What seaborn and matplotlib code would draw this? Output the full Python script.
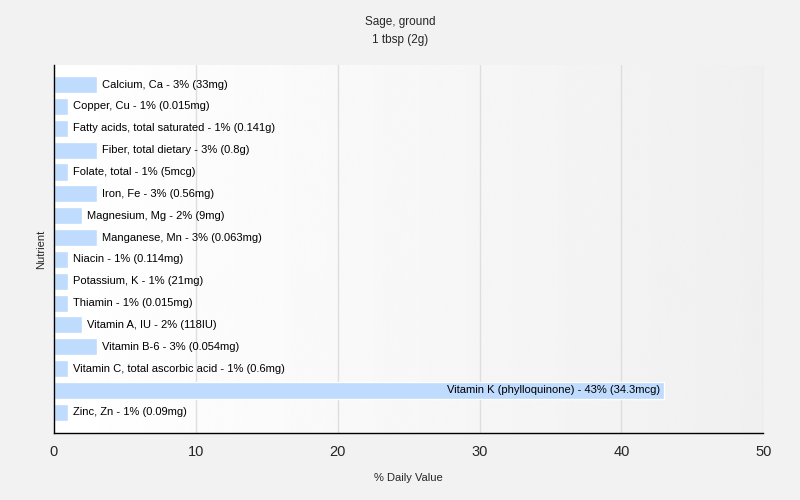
import matplotlib
matplotlib.use("Agg")
import matplotlib.pyplot as plt
import seaborn as sns
import numpy as np
import pandas as pd

nutrients = ["Calcium, Ca", "Copper, Cu", "Fatty acids, total saturated", "Fiber, total dietary",
             "Folate, total", "Iron, Fe", "Magnesium, Mg", "Manganese, Mn", "Niacin",
             "Potassium, K", "Thiamin", "Vitamin A, IU", "Vitamin B-6",
             "Vitamin C, total ascorbic acid", "Vitamin K (phylloquinone)", "Zinc, Zn"]
percents = [3, 1, 1, 3, 1, 3, 2, 3, 1, 1, 1, 2, 3, 1, 43, 1]
amounts = ["33mg", "0.015mg", "0.141g", "0.8g", "5mcg", "0.56mg", "9mg", "0.063mg", "0.114mg",
           "21mg", "0.015mg", "118IU", "0.054mg", "0.6mg", "34.3mcg", "0.09mg"]

df = pd.DataFrame({"Nutrient": nutrients, "pct": percents})

sns.set_style("white")
plt.rcParams['font.family'] = ['Liberation Sans', 'DejaVu Sans']

fig = plt.figure(figsize=(8, 5), dpi=100, facecolor="#f2f2f2")
ax = fig.add_axes([0.0675, 0.134, 0.8865, 0.736])

# gradient background
grad = np.linspace(1.0, 0.94, 256).reshape(1, -1)
ax.imshow(grad, extent=[0, 50, 15.95, -0.9], aspect="auto", cmap="gray", vmin=0, vmax=1,
          zorder=0, interpolation="bicubic")

sns.barplot(data=df, x="pct", y="Nutrient", orient="h", color="#bfdbfd", width=0.78,
            saturation=1, ax=ax, zorder=2)

ax.set_xlim(0, 50)
ax.set_ylim(15.95, -0.9)
ax.set_xticks([0, 10, 20, 30, 40, 50])
ax.tick_params(axis="x", labelsize=10.5, length=5, color="black", direction="out")
ax.set_yticks([1, 6, 11])
ax.set_yticklabels([])
ax.tick_params(axis="y", length=5, color="black")
for v in [10, 20, 30, 40, 50]:
    ax.axvline(v, color="#dedede", lw=1, zorder=1)

for s in ["top", "right"]:
    ax.spines[s].set_visible(False)
for s in ["left", "bottom"]:
    ax.spines[s].set_color("black")
    ax.spines[s].set_linewidth(1)

for i, (n, p, a) in enumerate(zip(nutrients, percents, amounts)):
    lab = f"{n} - {p}% ({a})"
    if p > 20:
        ax.text(p - 0.3, i, lab, va="center", ha="right", fontsize=8, color="black", zorder=3)
    else:
        ax.text(p + 0.35, i, lab, va="center", ha="left", fontsize=8, color="black", zorder=3)

ax.set_xlabel("% Daily Value", fontsize=8, labelpad=10)
ax.set_ylabel("Nutrient", fontsize=8, labelpad=-3)
fig.text(0.5, 0.955, "Sage, ground", ha="center", va="center", fontsize=8.5)
fig.text(0.5, 0.92, "1 tbsp (2g)", ha="center", va="center", fontsize=8.5)

fig.savefig("out.png", dpi=100, facecolor=fig.get_facecolor())
